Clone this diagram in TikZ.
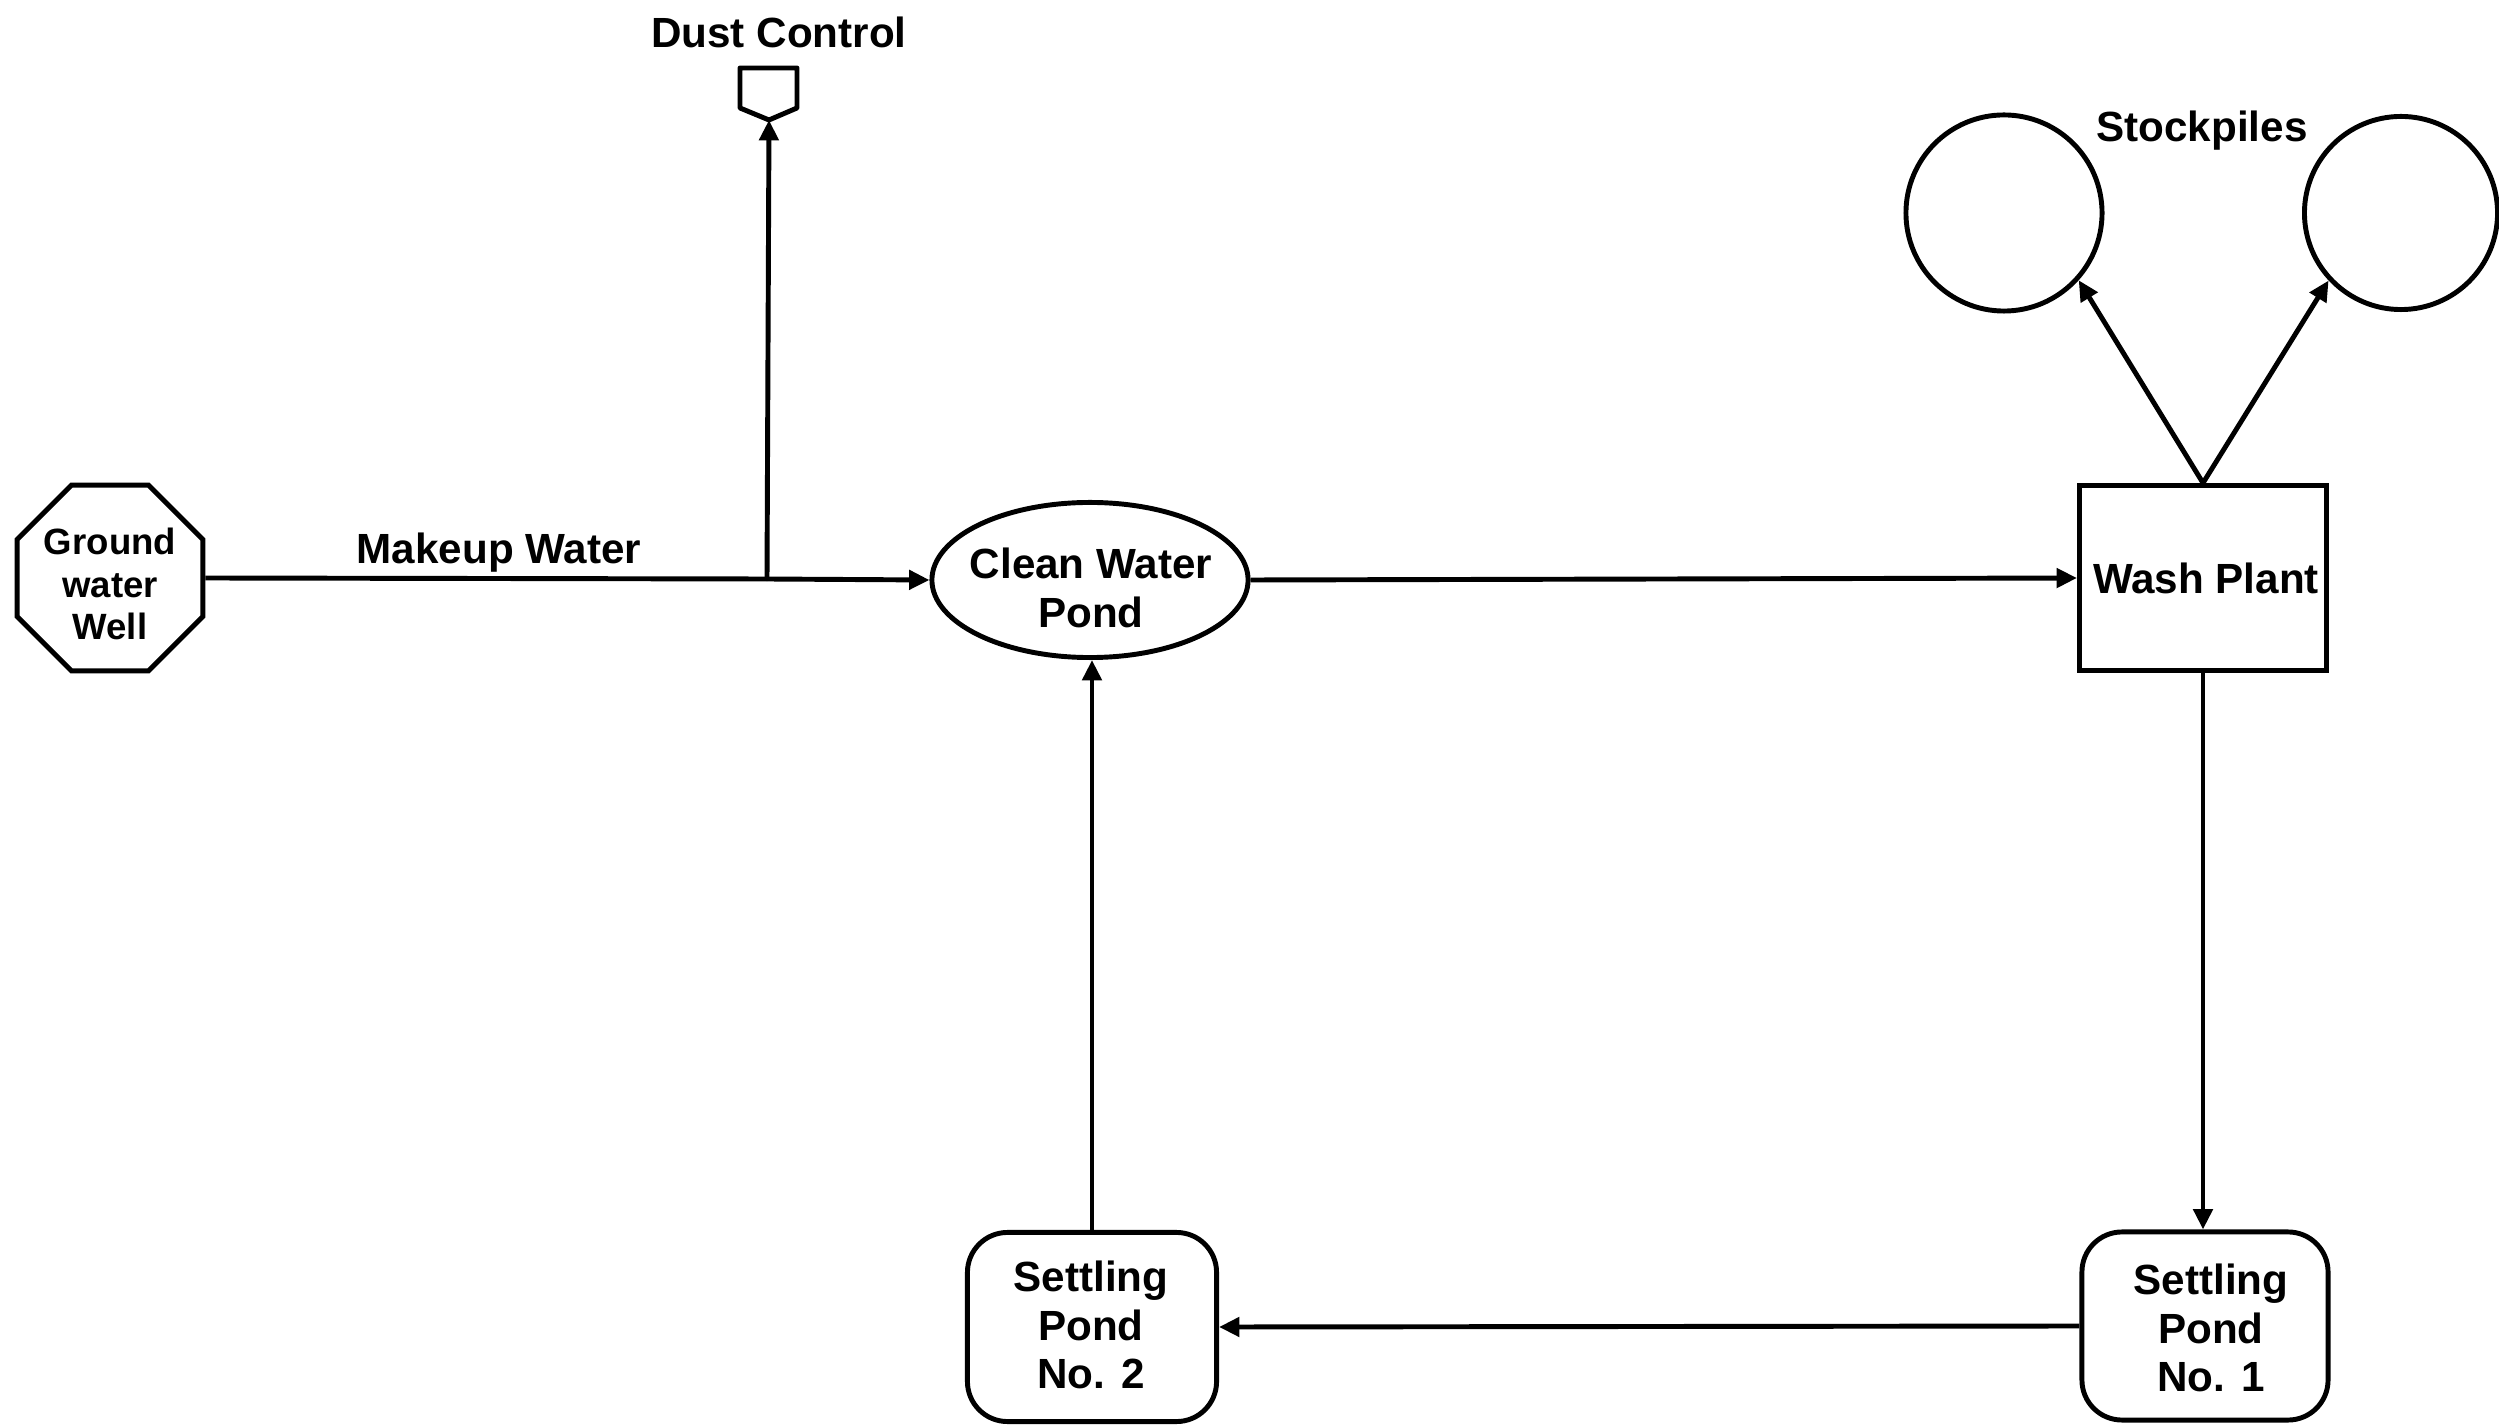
\documentclass[tikz,border=0pt]{standalone}
\usepackage{fontspec}
\setmainfont{Liberation Sans}
\usetikzlibrary{shapes.geometric,arrows.meta}
\begin{document}
\begin{tikzpicture}[x=0.01cm,y=-0.01cm,
  every node/.style={font=\bfseries\fontsize{12}{13.9}\selectfont, align=center},
  shapeline/.style={draw=black, line width=1.4pt},
  flow/.style={line width=1.4pt, -{Triangle[length=5.8pt,width=5.4pt]}},
  plain/.style={line width=1.4pt}]
\useasboundingbox (0,0) rectangle (2499,1425);
% nodes
\node[shapeline, regular polygon, regular polygon sides=8, minimum size=2.01cm, inner sep=0pt] (gw) at (110,578) {};
\node[font=\bfseries\fontsize{10.4}{12.2}\selectfont] (gwtext) at (110,584) {Ground\\water\\Well};
\node[shapeline, ellipse, minimum width=3.16cm, minimum height=1.55cm, inner sep=0pt] (cwp) at (1090,580) {};
\node (cwptext) at (1091,588) {Clean Water\\Pond};
\node[shapeline, rectangle, minimum width=2.47cm, minimum height=1.85cm, inner sep=0pt] (wp) at (2203,578) {};
\node (wptext) at (2206,578) {Wash Plant};
\node[shapeline, rectangle, rounded corners=0.4cm, minimum width=2.46cm, minimum height=1.88cm, inner sep=0pt] (sp1) at (2205,1326) {};
\node (sp1text) at (2211,1328) {Settling\\Pond\\No. 1};
\node[shapeline, rectangle, rounded corners=0.4cm, minimum width=2.49cm, minimum height=1.89cm, inner sep=0pt] (sp2) at (1092,1327) {};
\node (sp2text) at (1091,1325) {Settling\\Pond\\No. 2};
\node[shapeline, circle, minimum size=1.96cm, inner sep=0pt] (stl) at (2004,213) {};
\node[shapeline, circle, minimum size=1.93cm, inner sep=0pt] (str) at (2401,213) {};
\node (stock) at (2202,131) {Stockpiles};
\node (dustlbl) at (779,32) {Dust Control};
\node (makeup) at (499,553) {Makeup Water};
% dust control outlet shape
\draw[shapeline, line join=round] (740,68) -- (797,68) -- (797,108) -- (769,120) -- (740,108) -- cycle;
\coordinate (dusttip) at (769,120);
\coordinate (tap) at (767,579);
% connectors
\draw[plain] (gw.east) -- (tap);
\draw[flow] (tap) -- (cwp.west);
\draw[flow] (tap) -- (dusttip);
\draw[flow] (cwp.east) -- (wp.west);
\draw[flow] (wp.north) -- (stl.-42);
\draw[flow] (wp.north) -- (str.223);
\draw[flow] (wp.south) -- (wp.south |- sp1.north);
\draw[flow] (sp1.west) -- (sp2.east);
\draw[flow] (sp2.north) -- (sp2.north |- cwp.south);
\end{tikzpicture}
\end{document}
